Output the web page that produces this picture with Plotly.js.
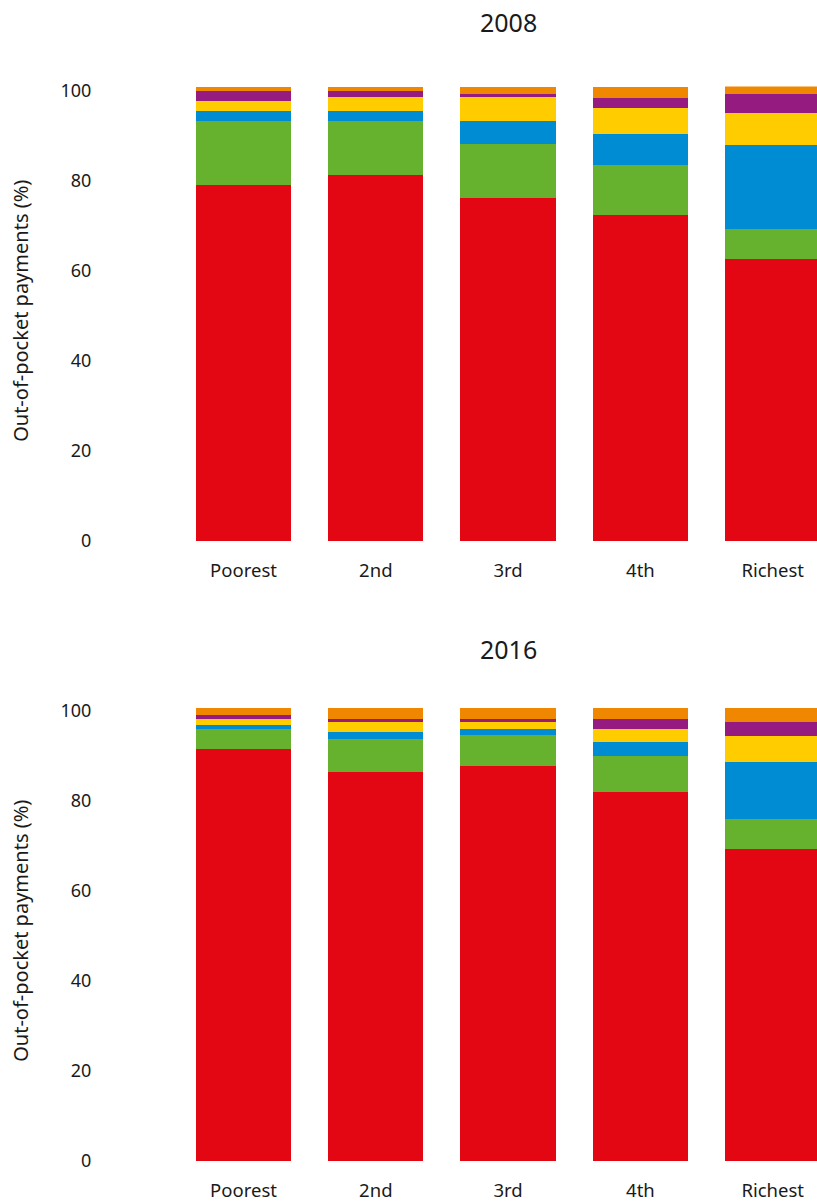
<!DOCTYPE html>
<html>
<head>
<meta charset="utf-8">
<script src="https://cdn.plot.ly/plotly-3.0.1.min.js"></script>
<style>html,body{margin:0;padding:0;background:#fff;overflow:hidden;}</style>
</head>
<body>
<div id="chart" style="width:817px;height:1202px;"></div>
<script>
const categories = ["Poorest", "2nd", "3rd", "4th", "Richest"];
const yearTitles = ["2008", "2016"];
const yTickVals = [0, 20, 40, 60, 80, 100];
const yAxisLabel = "Out-of-pocket payments (%)";

const seriesNames = ["Category 1", "Category 2", "Category 3", "Category 4", "Category 5", "Category 6"];
const seriesColors = ["#E30613", "#66B22F", "#008CD2", "#FFCC00", "#951B80", "#F08700"];

const red2008    = [79.1, 81.3, 76.2, 72.4, 62.7];
const green2008  = [14.2, 12.0, 12.0, 11.1, 6.7];
const blue2008   = [2.2, 2.2, 5.1, 6.9, 18.7];
const yellow2008 = [2.2, 3.1, 5.3, 5.8, 6.9];
const purple2008 = [2.2, 1.3, 0.7, 2.2, 4.4];
const orange2008 = [0.9, 0.9, 1.6, 2.4, 1.6];

const red2016    = [91.6, 86.4, 87.8, 82.0, 69.3];
const green2016  = [4.4, 7.3, 6.9, 8.0, 6.7];
const blue2016   = [0.9, 1.6, 1.3, 3.1, 12.7];
const yellow2016 = [1.3, 2.2, 1.6, 2.9, 5.8];
const purple2016 = [0.9, 0.7, 0.7, 2.2, 3.1];
const orange2016 = [1.6, 2.4, 2.4, 2.4, 3.1];

const data2008 = [red2008, green2008, blue2008, yellow2008, purple2008, orange2008];
const data2016 = [red2016, green2016, blue2016, yellow2016, purple2016, orange2016];

const FONT = '"Noto Sans", "Open Sans", sans-serif';
const TEXT = '#1a1a1a';

const traces = [];
[data2008, data2016].forEach((set, k) => {
  set.forEach((vals, i) => {
    traces.push({
      type: 'bar',
      x: categories,
      y: vals,
      name: seriesNames[i],
      marker: {color: seriesColors[i], line: {width: 0}},
      xaxis: k === 0 ? 'x' : 'x2',
      yaxis: k === 0 ? 'y' : 'y2',
      showlegend: false,
      hovertemplate: '%{x}: %{y}%<extra>' + seriesNames[i] + '</extra>'
    });
  });
});

const xr = [-1.085, 4.335];
const xaxisBase = {
  type: 'category',
  range: xr,
  showgrid: false, zeroline: false, showline: false,
  ticks: 'outside', ticklen: 13, tickcolor: 'rgba(0,0,0,0)',
  tickfont: {family: FONT, size: 18.5, color: TEXT},
  fixedrange: true
};
const yaxisBase = {
  range: [0, 101],
  tickvals: yTickVals,
  showgrid: false, zeroline: false, showline: false,
  ticks: 'outside', ticklen: 4, tickcolor: 'rgba(0,0,0,0)',
  tickfont: {family: FONT, size: 18, color: TEXT},
  fixedrange: true
};

const layout = {
  width: 817, height: 1202,
  margin: {l: 100, r: 0, t: 0, b: 41},
  paper_bgcolor: '#fff', plot_bgcolor: '#fff',
  barmode: 'stack',
  bargap: 0.28,
  font: {family: FONT, color: TEXT},
  xaxis: Object.assign({}, xaxisBase, {anchor: 'y', domain: [0, 1]}),
  yaxis: Object.assign({}, yaxisBase, {anchor: 'x', domain: [0.534, 0.9255]}),
  xaxis2: Object.assign({}, xaxisBase, {anchor: 'y2', domain: [0, 1]}),
  yaxis2: Object.assign({}, yaxisBase, {anchor: 'x2', domain: [0, 0.3915]}),
  annotations: [
    {text: yearTitles[0], xref: 'x', x: 2, yref: 'paper', y: 0.981, xanchor: 'center', yanchor: 'middle', showarrow: false, font: {family: FONT, size: 25, color: TEXT}},
    {text: yearTitles[1], xref: 'x2', x: 2, yref: 'paper', y: 0.441, xanchor: 'center', yanchor: 'middle', showarrow: false, font: {family: FONT, size: 25, color: TEXT}},
    {text: yAxisLabel, xref: 'paper', x: -0.112, yref: 'paper', y: 0.732, xanchor: 'center', yanchor: 'middle', textangle: -90, showarrow: false, font: {family: FONT, size: 20, color: TEXT}},
    {text: yAxisLabel, xref: 'paper', x: -0.112, yref: 'paper', y: 0.198, xanchor: 'center', yanchor: 'middle', textangle: -90, showarrow: false, font: {family: FONT, size: 20, color: TEXT}}
  ]
};

Plotly.newPlot('chart', traces, layout, {displayModeBar: false, staticPlot: true});
</script>
</body>
</html>
